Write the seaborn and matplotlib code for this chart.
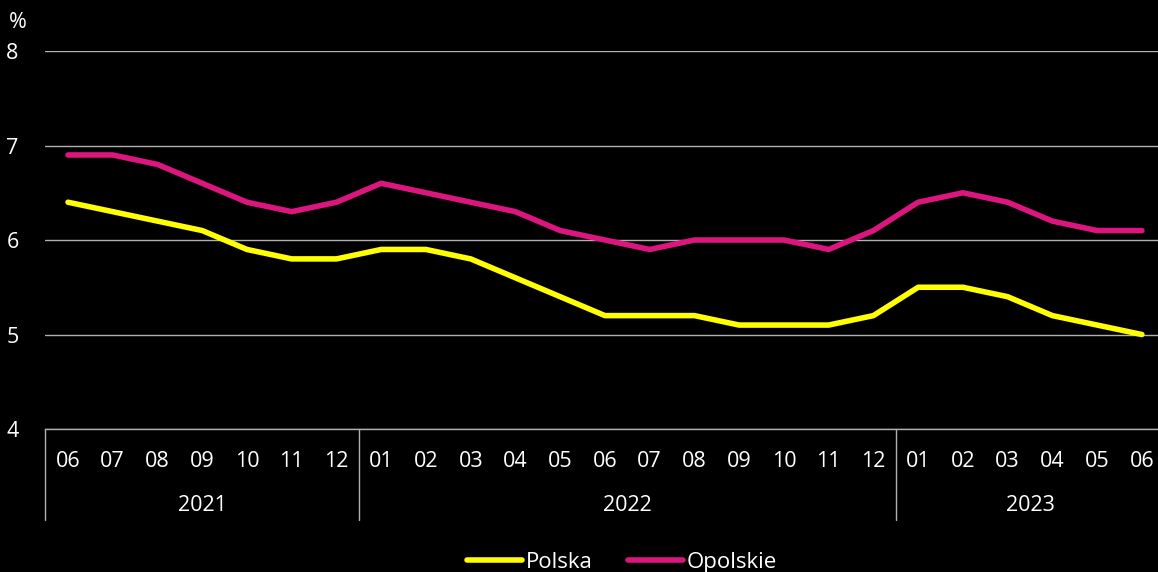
import pandas as pd
import seaborn as sns
import matplotlib.pyplot as plt
import matplotlib.transforms as mtransforms

months = ['06', '07', '08', '09', '10', '11', '12',
          '01', '02', '03', '04', '05', '06', '07', '08', '09', '10', '11', '12',
          '01', '02', '03', '04', '05', '06']
years = ['2021', '2022', '2023']
year_span = [(0, 6), (7, 18), (19, 24)]
polska = [6.4, 6.3, 6.2, 6.1, 5.9, 5.8, 5.8, 5.9, 5.9, 5.8, 5.6, 5.4, 5.2,
          5.2, 5.2, 5.1, 5.1, 5.1, 5.2, 5.5, 5.5, 5.4, 5.2, 5.1, 5.0]
opolskie = [6.9, 6.9, 6.8, 6.6, 6.4, 6.3, 6.4, 6.6, 6.5, 6.4, 6.3, 6.1, 6.0,
            5.9, 6.0, 6.0, 6.0, 5.9, 6.1, 6.4, 6.5, 6.4, 6.2, 6.1, 6.1]

df = pd.concat([
    pd.DataFrame({'x': range(len(months)), 'val': polska, 'region': 'Polska'}),
    pd.DataFrame({'x': range(len(months)), 'val': opolskie, 'region': 'Opolskie'}),
], ignore_index=True)

sns.set_style('dark', {'axes.facecolor': 'black', 'figure.facecolor': 'black'})
plt.rcParams['font.family'] = ['Open Sans', 'DejaVu Sans']
plt.rcParams['text.color'] = 'white'

fig = plt.figure(figsize=(11.58, 5.72), dpi=100)
ax = fig.add_axes([45 / 1158, 0.25, 1 - 45 / 1158, 0.6608])

ax = sns.lineplot(data=df, x='x', y='val', hue='region', ax=ax,
                  palette={'Polska': '#ffff00', 'Opolskie': '#dc157f'},
                  linewidth=4, legend=False)
for ln in ax.lines:
    ln.set_solid_capstyle('round')
    ln.set_solid_joinstyle('round')

ax.set_ylim(4, 8)
ax.set_xlim(-0.514, 24.36)
ax.set_yticks([4, 5, 6, 7, 8])
ax.set_xticks(range(len(months)))
ax.set_xticklabels(months)
ax.tick_params(axis='both', length=0, colors='white', labelsize=15.5)
ax.tick_params(axis='x', pad=16)
ax.tick_params(axis='y', pad=19)
ax.yaxis.grid(True, color='#b0b0b0', linewidth=1)
ax.xaxis.grid(False)
for s in ax.spines.values():
    s.set_visible(False)
ax.spines['bottom'].set_visible(True)
ax.spines['bottom'].set_color('#b0b0b0')
ax.spines['bottom'].set_linewidth(1)
ax.set_xlabel('')
ax.set_ylabel('')

# percent unit above the y axis
fig.text(18 / 1158, 1 - 22 / 572, '%', color='white', fontsize=15.5,
         ha='center', va='center')

# grouped year axis
trans = mtransforms.blended_transform_factory(ax.transData, ax.transAxes)
seps = [-0.514] + [(a[1] + b[0]) / 2 for a, b in zip(year_span[:-1], year_span[1:])]
for xs in seps:
    ax.plot([xs, xs], [0, -0.2407], transform=trans, color='#b0b0b0',
            linewidth=1, clip_on=False)
for yr, (a, b) in zip(years, year_span):
    ax.text((a + b) / 2, -0.203, yr, transform=trans, ha='center',
            va='center', color='white', fontsize=15.5)

# legend
handles = [plt.Line2D([], [], color='#ffff00', linewidth=4, solid_capstyle='round'),
           plt.Line2D([], [], color='#dc157f', linewidth=4, solid_capstyle='round')]
fig.legend(handles, ['Polska', 'Opolskie'], loc='lower center',
           bbox_to_anchor=(0.537, -0.037), ncol=2, frameon=False, fontsize=16,
           handlelength=2.5, handletextpad=0.15, columnspacing=1.6,
           labelcolor='white')

fig.savefig('out.png', dpi=100, facecolor='black')
